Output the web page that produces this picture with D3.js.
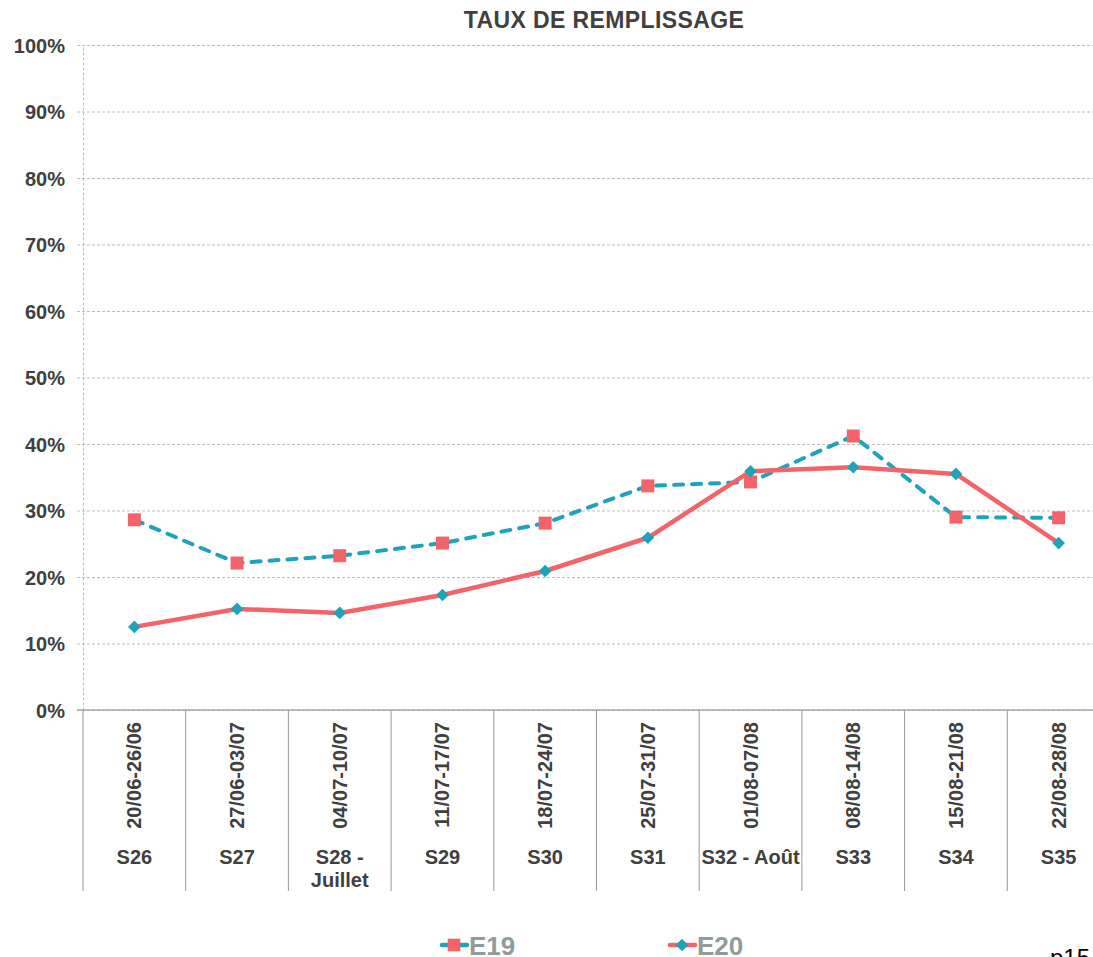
<!DOCTYPE html>
<html>
<head>
<meta charset="utf-8">
<script src="https://cdn.jsdelivr.net/npm/d3@7"></script>
<style>
  body { margin: 0; background: #fff; }
  svg { display: block; font-family: "Liberation Sans", Arial, sans-serif; }
</style>
</head>
<body>
<figure id="chart" style="margin:0"></figure>
<script>
// data
const weeks = ["S26", "S27", "S28 - Juillet", "S29", "S30", "S31", "S32 - Août", "S33", "S34", "S35"];
const dates = ["20/06-26/06", "27/06-03/07", "04/07-10/07", "11/07-17/07", "18/07-24/07",
               "25/07-31/07", "01/08-07/08", "08/08-14/08", "15/08-21/08", "22/08-28/08"];
const e19 = [0.286, 0.221, 0.232, 0.251, 0.281, 0.337, 0.343, 0.412, 0.290, 0.289];
const e20 = [0.125, 0.152, 0.146, 0.173, 0.209, 0.259, 0.359, 0.365, 0.355, 0.251];
const yTicks = [0, 0.1, 0.2, 0.3, 0.4, 0.5, 0.6, 0.7, 0.8, 0.9, 1];

const pink = "#f2636a";
const teal = "#1ea3bb";
const textCol = "#404040";

const W = 1093, H = 957;
const plotLeft = 83, plotRight = 1110, plotTop = 45, plotBottom = 710;

const svg = d3.select("#chart").append("svg")
  .attr("width", W)
  .attr("height", H);

const x = d3.scaleBand()
  .domain(weeks)
  .range([plotLeft, plotRight])
  .padding(0);

const y = d3.scaleLinear()
  .domain([0, 1])
  .range([plotBottom, plotTop]);

// title
svg.append("text")
  .attr("x", 604)
  .attr("y", 28)
  .attr("text-anchor", "middle")
  .style("font-size", "23px")
  .style("letter-spacing", "0.4px")
  .style("font-weight", "bold")
  .style("fill", textCol)
  .text("TAUX DE REMPLISSAGE");

// y axis with dashed gridlines
const yAxis = svg.append("g")
  .attr("transform", "translate(" + plotLeft + ",0)")
  .call(d3.axisLeft(y)
    .tickValues(yTicks)
    .tickFormat(d3.format(".0%"))
    .tickSizeInner(-(plotRight - plotLeft))
    .tickSizeOuter(0)
    .tickPadding(18));
yAxis.select(".domain")
  .attr("stroke", "#bdbdbd")
  .attr("stroke-dasharray", "3,2");
yAxis.selectAll(".tick line")
  .attr("x1", -6)
  .attr("stroke", "#bdbdbd")
  .attr("stroke-dasharray", "3,2");
yAxis.selectAll(".tick text")
  .attr("dy", "0.35em")
  .style("font-size", "20px")
  .style("font-weight", "bold")
  .style("fill", textCol);

// x axis line
svg.append("line")
  .attr("x1", plotLeft - 6)
  .attr("x2", plotRight)
  .attr("y1", y(0))
  .attr("y2", y(0))
  .attr("stroke", "#a6a6a6")
  .attr("stroke-width", 1.5);

// category separators
const bounds = weeks.map(d => x(d)).concat([plotRight]);
svg.append("g").selectAll("line")
  .data(bounds)
  .enter()
  .append("line")
  .attr("x1", d => d)
  .attr("x2", d => d)
  .attr("y1", y(0))
  .attr("y2", 891)
  .attr("stroke", "#999")
  .attr("stroke-width", 1);

// rotated date labels
const xAxis = svg.append("g")
  .attr("transform", "translate(0," + y(0) + ")")
  .call(d3.axisBottom(x).tickSize(0).tickFormat((d, i) => dates[i]));
xAxis.select(".domain").remove();
xAxis.selectAll(".tick text")
  .attr("transform", "rotate(-90)")
  .attr("x", -12)
  .attr("y", 0)
  .attr("dy", "0.35em")
  .attr("text-anchor", "end")
  .style("font-size", "20px")
  .style("font-weight", "bold")
  .style("fill", textCol);

// week labels (wrapped to the band width)
const weekText = svg.append("g").selectAll("text")
  .data(weeks)
  .enter()
  .append("text")
  .attr("x", d => x(d) + x.bandwidth() / 2)
  .attr("y", 864)
  .attr("text-anchor", "middle")
  .style("font-size", "20px")
  .style("font-weight", "bold")
  .style("fill", textCol)
  .text(d => d);

weekText.each(function(d) {
  const t = d3.select(this);
  if (this.getComputedTextLength() <= x.bandwidth()) return;
  const words = d.split(" ");
  t.text(null);
  let line = [];
  let ts = t.append("tspan").attr("x", t.attr("x")).attr("dy", 0);
  words.forEach(w => {
    line.push(w);
    ts.text(line.join(" "));
    if (ts.node().getComputedTextLength() > x.bandwidth() && line.length > 1) {
      line.pop();
      ts.text(line.join(" "));
      line = [w];
      ts = t.append("tspan").attr("x", t.attr("x")).attr("dy", "23px").text(w);
    }
  });
});

const cx = (d, i) => x(weeks[i]) + x.bandwidth() / 2;

// E19: dashed teal line with pink squares
svg.append("path")
  .datum(e19)
  .attr("fill", "none")
  .attr("stroke", teal)
  .attr("stroke-width", 4)
  .attr("stroke-dasharray", "9,9")
  .attr("stroke-linecap", "round")
  .attr("d", d3.line().x(cx).y(d => y(d)));

svg.append("g").selectAll("path")
  .data(e19)
  .enter()
  .append("path")
  .attr("transform", (d, i) => "translate(" + cx(d, i) + "," + y(d) + ")")
  .attr("d", d3.symbol(d3.symbolSquare, 169))
  .attr("fill", pink);

// E20: solid pink line with teal diamonds
svg.append("path")
  .datum(e20)
  .attr("fill", "none")
  .attr("stroke", pink)
  .attr("stroke-width", 4.5)
  .attr("stroke-linejoin", "round")
  .attr("d", d3.line().x(cx).y(d => y(d)));

svg.append("g").selectAll("path")
  .data(e20)
  .enter()
  .append("path")
  .attr("transform", (d, i) => "translate(" + cx(d, i) + "," + y(d) + ") rotate(45)")
  .attr("d", d3.symbol(d3.symbolSquare, 80))
  .attr("fill", teal);

// legend
const legend = [
  {name: "E19", line: teal, mark: pink, size: 160, rot: 0, x: 442},
  {name: "E20", line: pink, mark: teal, size: 80, rot: 45, x: 670}
];
const lg = svg.append("g").selectAll("g")
  .data(legend)
  .enter()
  .append("g")
  .attr("transform", d => "translate(" + d.x + ",945)");
lg.append("line")
  .attr("x1", 0)
  .attr("x2", 25)
  .attr("stroke", d => d.line)
  .attr("stroke-width", 4.5)
  .attr("stroke-linecap", "round");
lg.append("path")
  .attr("transform", d => "translate(12,0) rotate(" + d.rot + ")")
  .attr("d", d => d3.symbol(d3.symbolSquare, d.size)())
  .attr("fill", d => d.mark);
lg.append("text")
  .attr("x", 27)
  .attr("y", 10)
  .style("font-size", "26px")
  .style("font-weight", "bold")
  .style("fill", "#8e9c9c")
  .text(d => d.name);

// page number, cut by the bottom edge
svg.append("text")
  .attr("x", 1050)
  .attr("y", 966)
  .style("font-size", "24px")
  .style("fill", "#000")
  .text("p15");
</script>
</body>
</html>
